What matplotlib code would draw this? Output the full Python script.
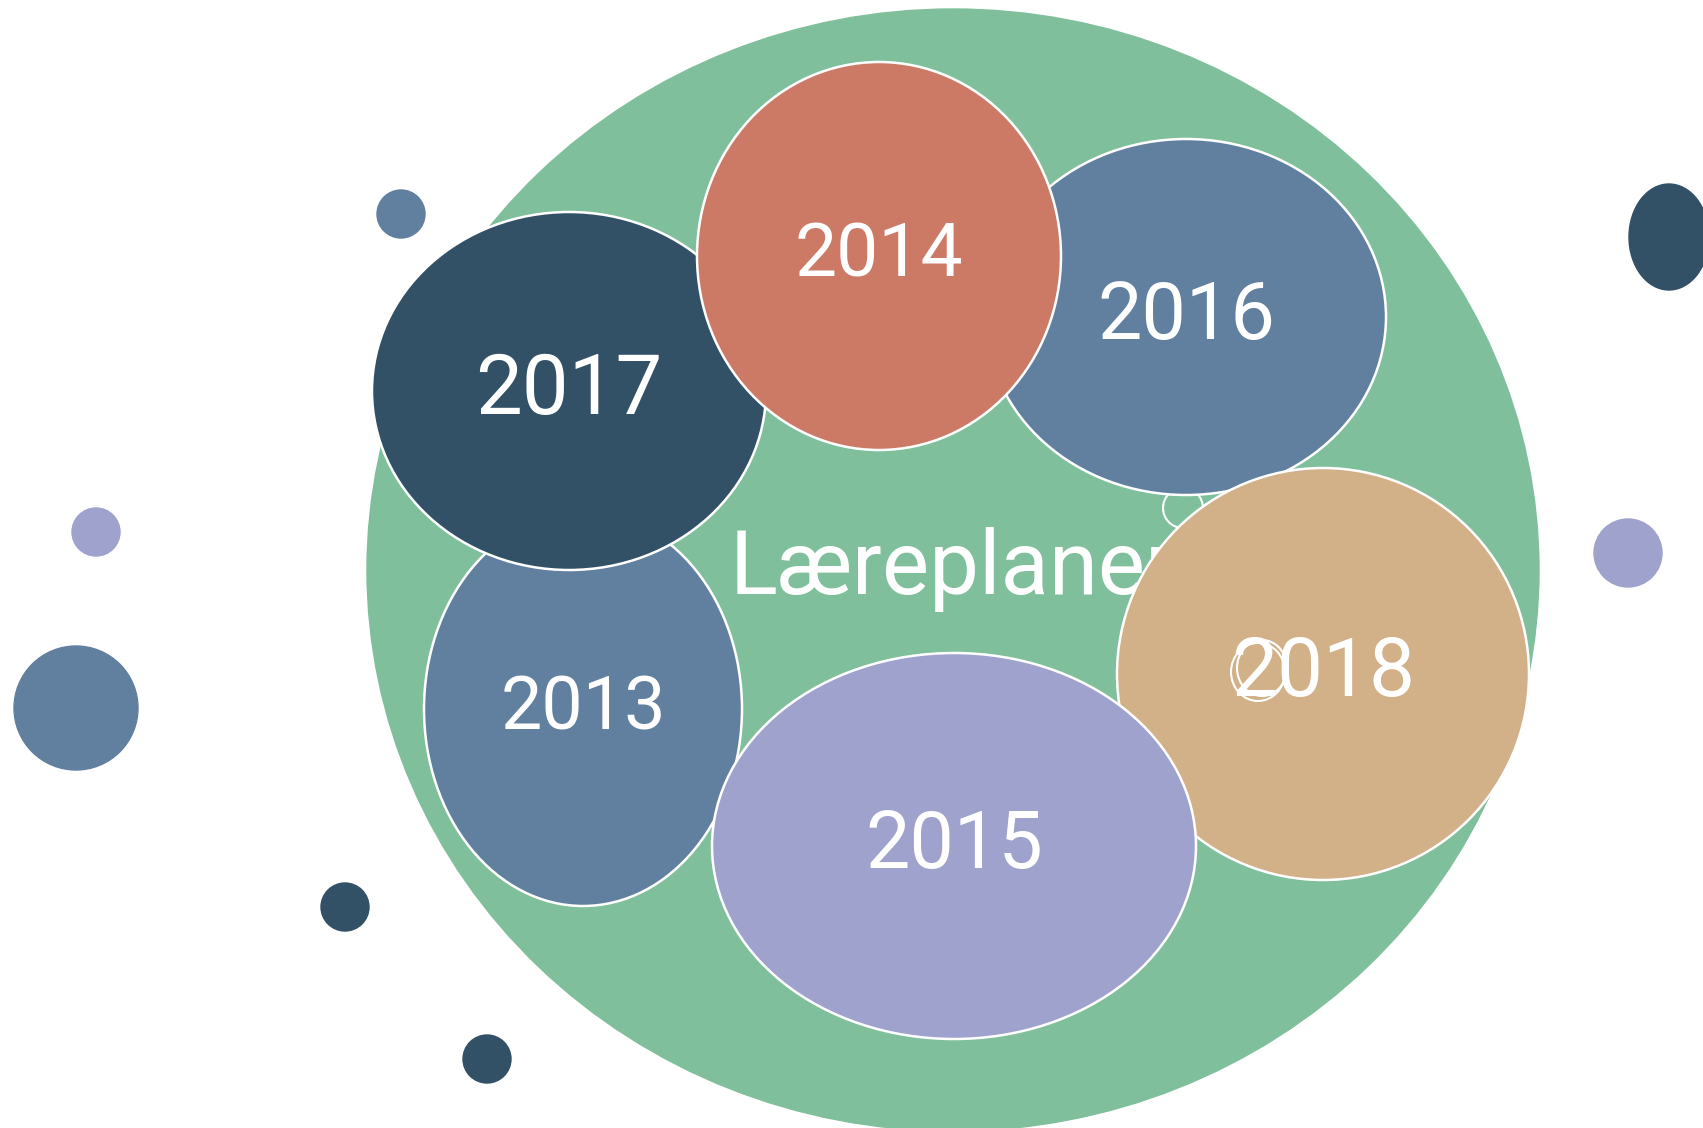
import matplotlib.pyplot as plt
from matplotlib.patches import Ellipse

# parent bubble
parent_label = "Læreplaner"
parent_xy = (953, 570)
parent_r = (586, 561)

# year bubbles (drawing order matters, later ones on top)
years = ["2013", "2017", "2016", "2014", "2018", "2015"]
year_x = [583, 569, 1186, 879, 1323, 954]
year_y = [709, 391, 317, 256, 674, 846]
year_rx = [159, 197, 200, 182, 206, 242]
year_ry = [197, 179, 178, 194, 206, 193]
year_size = [53, 60, 57, 54, 59, 57]
year_color = ["#617f9f", "#325066", "#617f9f", "#cc7a66", "#d2b088", "#9ea2cd"]

# loose bubbles outside the parent
dot_x = [401, 96, 76, 345, 487, 1628, 1669]
dot_y = [214, 532, 708, 907, 1059, 553, 237]
dot_rx = [24, 24, 62, 24, 24, 34, 40]
dot_ry = [24, 24, 62, 24, 24, 34, 53]
dot_color = ["#617f9f", "#9ea2cd", "#617f9f", "#325066", "#325066", "#9ea2cd", "#325066"]

W, H = 1703, 1128
fig = plt.figure(figsize=(W / 100, H / 100), dpi=100)
ax = fig.add_axes([0, 0, 1, 1])
ax.set_xlim(0, W)
ax.set_ylim(H, 0)
ax.axis("off")

ax.add_patch(Ellipse(parent_xy, 2 * parent_r[0], 2 * parent_r[1], color="#7fbf9c", zorder=1))
ax.text(parent_xy[0], parent_xy[1], parent_label, color="white", fontsize=64,
        family="Roboto", ha="center", va="center", zorder=2)

# tiny leftover bubble behind 2016/2018
ax.add_patch(Ellipse((1183, 508), 40, 40, facecolor="#7fbf9c", edgecolor="white", lw=1.5, zorder=2))

for i, yr in enumerate(years):
    z = 3 + i
    ax.add_patch(Ellipse((year_x[i], year_y[i]), 2 * year_rx[i], 2 * year_ry[i],
                         facecolor=year_color[i], edgecolor="white", lw=1.8, zorder=z))
    ax.text(year_x[i], year_y[i], yr, color="white", fontsize=year_size[i], family="Roboto",
            ha="center", va="center", zorder=z + 0.5)

# odd outline circles sitting on 2018 label
ax.add_patch(Ellipse((1258, 672), 54, 58, fill=False, edgecolor="white", lw=1.5, zorder=20))
ax.add_patch(Ellipse((1262, 668), 50, 56, fill=False, edgecolor="white", lw=1.5, zorder=20))

for x, y, rx, ry, c in zip(dot_x, dot_y, dot_rx, dot_ry, dot_color):
    ax.add_patch(Ellipse((x, y), 2 * rx, 2 * ry, color=c, zorder=2))

fig.savefig("out.png", dpi=100)
